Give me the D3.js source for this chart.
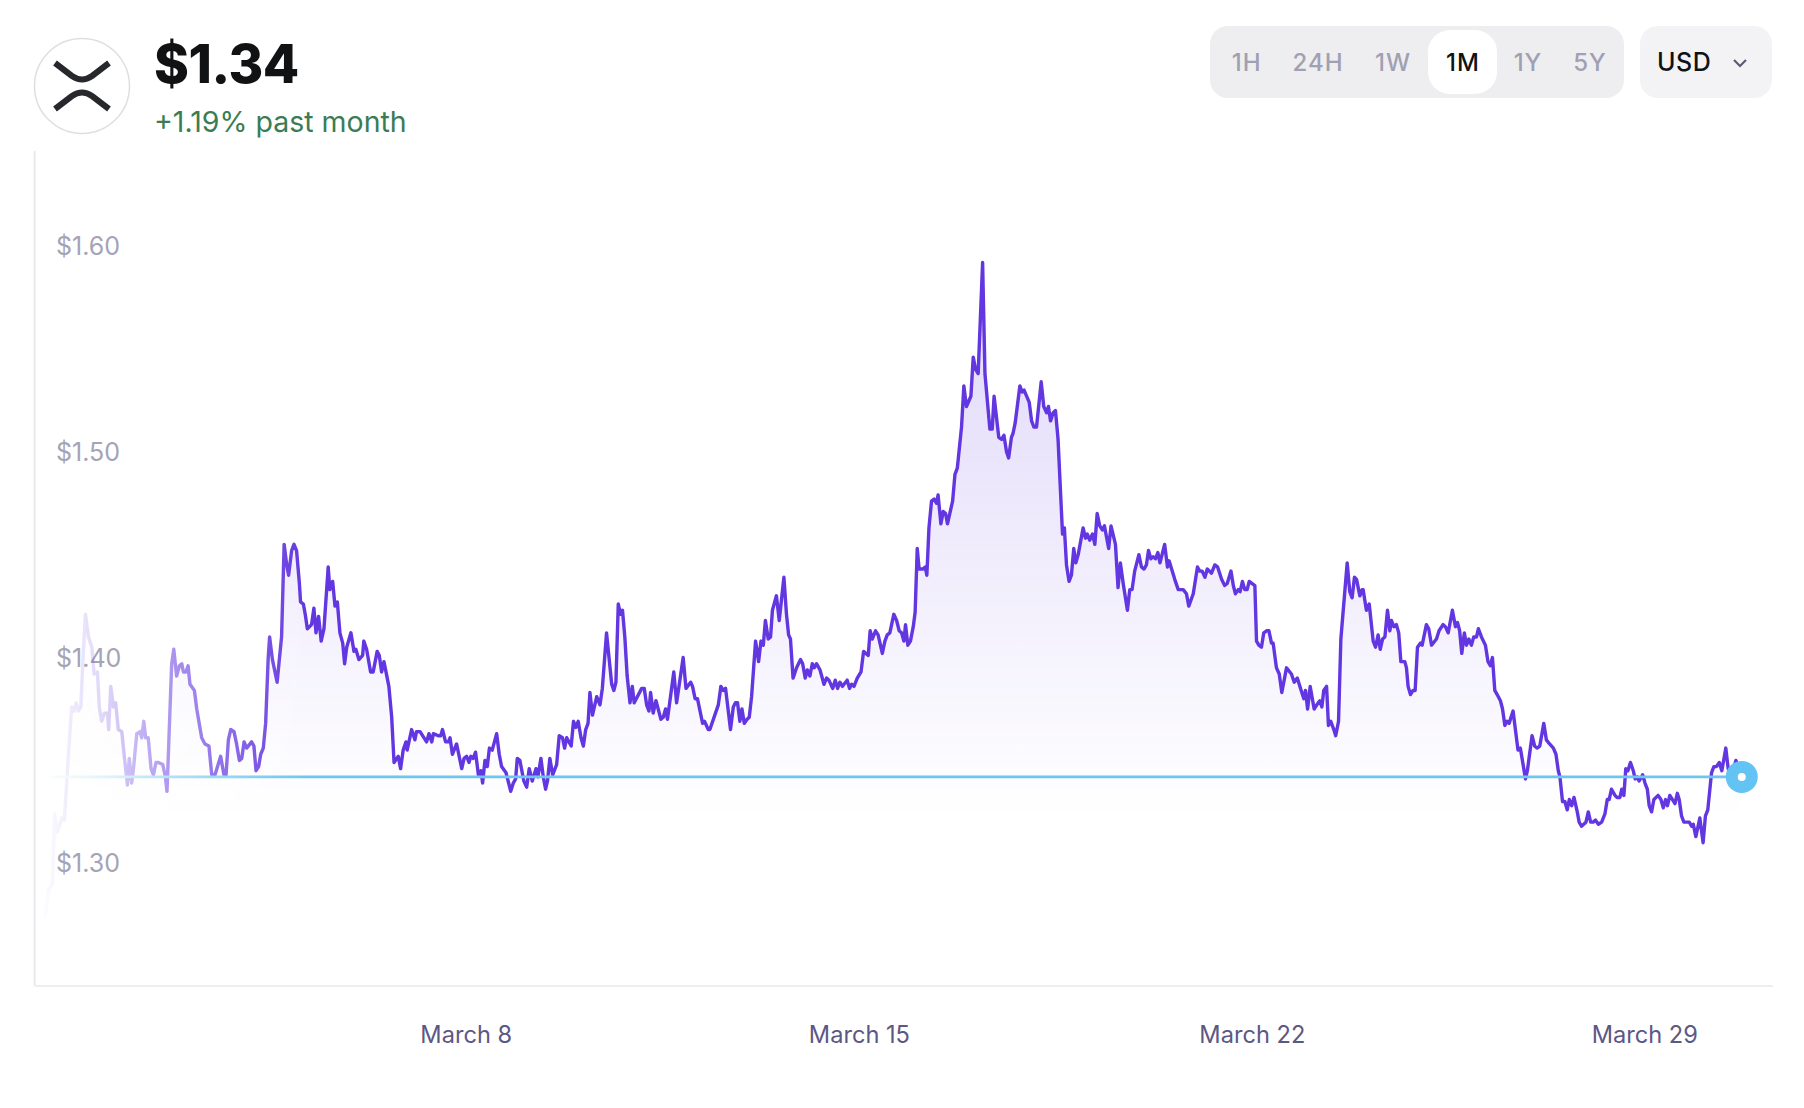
<!DOCTYPE html>
<html>
<head>
  <meta charset="utf-8">
  <script src="https://cdn.jsdelivr.net/npm/d3@7"></script>
  <style>
    html, body { margin:0; padding:0; background:#fff; }
    svg { display:block; font-family:Inter, sans-serif; }
  </style>
</head>
<body>
  <div id="chart"></div>
  <script>

  var periods = ["1H", "24H", "1W", "1M", "1Y", "5Y"]
  var activePeriod = "1M"
  var currency = "USD"
  var priceLabel = "$1.34"
  var changeLabel = "+1.19% past month"
  var currentPrice = 1.342
  var priceTicks = [1.30, 1.40, 1.50, 1.60]
  var dateTicks = [Date.UTC(2025,2,7,23,30), Date.UTC(2025,2,14,23,18), Date.UTC(2025,2,21,23,0), Date.UTC(2025,2,28,22,30)]

  // [hours since March 1, price in USD]
  var priceHistory = [
    [-12.0,1.274],[-10.6,1.287],[-8.9,1.290],[-8.0,1.324],[-6.8,1.315],[-4.9,1.322],[-3.8,1.321],[-2.4,1.347],[-0.7,1.376],[0.3,1.374],
    [1.2,1.378],[2.2,1.374],[3.2,1.376],[4.3,1.403],[5.2,1.421],[6.5,1.410],[7.9,1.405],[8.9,1.392],[10.3,1.393],[11.1,1.376],
    [12.1,1.369],[13.3,1.373],[14.6,1.373],[15.1,1.365],[16.0,1.386],[17.1,1.376],[18.1,1.378],[19.2,1.365],[20.7,1.364],[21.4,1.356],
    [23.1,1.338],[23.9,1.351],[24.9,1.339],[25.6,1.345],[27.1,1.363],[28.5,1.364],[29.2,1.361],[30.1,1.369],[30.9,1.361],[32.0,1.361],
    [33.2,1.346],[34.2,1.343],[35.3,1.349],[36.3,1.349],[38.2,1.348],[39.3,1.342],[40.0,1.335],[41.0,1.366],[42.0,1.397],[42.9,1.404],
    [44.1,1.391],[45.3,1.396],[46.3,1.397],[47.0,1.393],[48.1,1.393],[49.0,1.396],[49.8,1.387],[51.7,1.384],[52.7,1.375],[54.8,1.361],
    [56.2,1.358],[57.9,1.357],[59.1,1.343],[60.5,1.343],[62.9,1.352],[64.3,1.343],[65.2,1.343],[66.2,1.360],[67.2,1.365],[68.6,1.364],
    [69.7,1.358],[70.9,1.350],[71.9,1.351],[72.9,1.359],[74.0,1.356],[76.1,1.359],[77.1,1.357],[78.0,1.345],[79.1,1.347],[80.0,1.353],
    [81.1,1.356],[82.1,1.368],[83.2,1.400],[83.8,1.410],[85.0,1.399],[87.0,1.388],[88.9,1.410],[90.0,1.455],[91.1,1.445],[91.9,1.440],
    [93.2,1.452],[94.2,1.455],[95.3,1.452],[96.5,1.436],[97.0,1.427],[98.2,1.426],[99.0,1.421],[99.9,1.414],[101.7,1.416],[102.7,1.424],
    [103.6,1.412],[104.7,1.420],[105.8,1.408],[107.0,1.414],[108.8,1.444],[109.5,1.433],[110.7,1.437],[111.7,1.425],[112.7,1.427],[113.8,1.412],
    [115.0,1.407],[115.8,1.397],[116.7,1.405],[118.5,1.412],[119.8,1.403],[120.6,1.404],[121.9,1.399],[123.5,1.401],[124.0,1.408],[125.2,1.404],
    [126.9,1.393],[128.0,1.393],[129.7,1.403],[130.6,1.401],[131.6,1.393],[132.6,1.398],[134.7,1.386],[135.9,1.371],[136.9,1.349],[138.7,1.352],
    [139.7,1.346],[140.8,1.355],[142.0,1.359],[142.5,1.355],[144.4,1.365],[145.8,1.360],[146.5,1.364],[148.0,1.364],[150.8,1.359],[151.8,1.363],
    [153.0,1.359],[153.7,1.363],[155.8,1.362],[156.8,1.362],[157.6,1.365],[158.9,1.359],[160.1,1.359],[160.8,1.361],[161.8,1.353],[163.6,1.358],
    [165.8,1.346],[166.8,1.351],[167.9,1.352],[168.9,1.349],[169.7,1.352],[170.7,1.351],[171.7,1.354],[172.9,1.343],[174.0,1.345],[174.7,1.339],
    [175.7,1.350],[176.7,1.347],[177.6,1.356],[178.8,1.355],[180.7,1.363],[181.8,1.353],[182.8,1.347],[184.7,1.344],[186.7,1.335],[187.8,1.339],
    [188.8,1.341],[189.5,1.351],[190.6,1.350],[192.3,1.340],[193.5,1.337],[194.6,1.346],[195.9,1.340],[197.5,1.346],[198.3,1.342],[199.6,1.351],
    [200.6,1.342],[201.6,1.336],[202.4,1.340],[203.4,1.351],[204.6,1.343],[206.3,1.348],[207.4,1.362],[208.8,1.361],[209.7,1.356],[210.6,1.361],
    [212.5,1.357],[213.5,1.369],[214.5,1.366],[215.5,1.369],[216.7,1.361],[217.7,1.357],[218.7,1.365],[219.7,1.368],[220.5,1.383],[221.6,1.372],
    [223.4,1.381],[224.8,1.377],[225.8,1.385],[227.6,1.412],[229.8,1.387],[230.7,1.384],[231.6,1.388],[232.6,1.426],[233.6,1.421],[234.4,1.423],
    [235.4,1.410],[236.4,1.391],[237.6,1.378],[238.6,1.386],[239.4,1.378],[242.6,1.385],[243.7,1.385],[244.7,1.377],[245.7,1.374],[246.4,1.383],
    [247.5,1.373],[248.7,1.379],[250.8,1.370],[251.8,1.371],[252.8,1.375],[253.6,1.370],[256.3,1.393],[257.5,1.378],[260.3,1.400],[261.5,1.385],
    [263.5,1.388],[264.3,1.386],[265.4,1.380],[266.4,1.380],[268.6,1.368],[269.4,1.369],[271.0,1.365],[271.7,1.365],[273.8,1.372],[275.3,1.377],
    [276.4,1.386],[277.4,1.384],[278.4,1.385],[280.5,1.365],[281.7,1.376],[282.6,1.378],[283.5,1.378],[284.5,1.369],[285.4,1.375],[286.4,1.368],
    [287.6,1.370],[288.5,1.371],[289.5,1.381],[291.2,1.408],[292.5,1.398],[293.5,1.408],[294.5,1.406],[295.4,1.418],[296.6,1.409],[297.6,1.410],
    [298.4,1.423],[300.1,1.430],[301.3,1.418],[303.3,1.439],[304.4,1.421],[305.3,1.411],[306.1,1.409],[307.2,1.390],[308.7,1.395],[310.4,1.399],
    [311.3,1.397],[312.4,1.390],[313.3,1.394],[314.4,1.391],[315.4,1.397],[316.2,1.395],[317.2,1.397],[318.7,1.394],[320.4,1.387],[321.5,1.390],
    [322.5,1.389],[324.1,1.385],[325.2,1.389],[326.2,1.385],[327.2,1.388],[328.3,1.386],[330.3,1.389],[331.3,1.385],[332.2,1.387],[333.2,1.386],
    [334.6,1.390],[336.2,1.393],[337.3,1.403],[338.3,1.402],[339.3,1.401],[340.1,1.413],[341.0,1.409],[342.4,1.413],[343.5,1.411],[345.3,1.402],
    [346.4,1.408],[347.4,1.411],[348.5,1.412],[350.2,1.421],[351.4,1.418],[352.5,1.413],[353.5,1.412],[354.5,1.408],[355.2,1.416],[356.2,1.406],
    [357.3,1.408],[358.5,1.415],[359.3,1.422],[360.2,1.453],[361.0,1.443],[362.7,1.443],[363.6,1.444],[364.3,1.440],[365.2,1.463],[366.3,1.476],
    [367.4,1.477],[368.4,1.475],[369.1,1.479],[370.3,1.465],[371.3,1.471],[372.3,1.470],[373.1,1.465],[375.3,1.476],[376.3,1.489],[377.3,1.492],
    [379.1,1.512],[380.1,1.532],[381.2,1.522],[383.1,1.527],[384.1,1.546],[385.1,1.540],[386.2,1.538],[388.1,1.592],[389.1,1.538],[391.2,1.511],
    [392.2,1.511],[393.0,1.527],[395.0,1.507],[396.2,1.506],[397.2,1.508],[398.3,1.500],[399.2,1.497],[400.4,1.507],[401.1,1.509],[402.0,1.514],
    [404.0,1.532],[405.0,1.529],[405.8,1.530],[408.0,1.524],[409.0,1.515],[410.0,1.512],[411.1,1.512],[413.1,1.534],[414.2,1.522],[415.4,1.519],
    [416.2,1.522],[417.1,1.515],[418.2,1.519],[419.2,1.520],[420.3,1.506],[422.2,1.460],[423.0,1.463],[423.9,1.445],[425.0,1.437],[426.0,1.440],
    [427.0,1.453],[427.9,1.446],[428.9,1.450],[431.0,1.463],[432.0,1.458],[432.8,1.460],[433.8,1.457],[435.0,1.460],[436.0,1.455],[437.0,1.470],
    [438.1,1.464],[439.2,1.462],[440.1,1.464],[441.9,1.453],[442.9,1.464],[444.8,1.455],[445.9,1.434],[446.9,1.446],[448.1,1.436],[449.9,1.423],
    [450.9,1.433],[451.9,1.433],[453.0,1.442],[454.8,1.450],[455.9,1.444],[457.0,1.443],[458.0,1.445],[458.9,1.452],[459.9,1.448],[460.9,1.449],
    [461.9,1.448],[462.9,1.451],[463.8,1.446],[465.8,1.455],[467.0,1.444],[467.7,1.447],[470.1,1.438],[471.6,1.433],[473.7,1.433],[475.1,1.431],
    [476.1,1.425],[478.0,1.431],[479.8,1.444],[480.8,1.442],[481.8,1.442],[483.0,1.439],[484.0,1.443],[485.8,1.441],[487.2,1.445],[488.4,1.444],
    [490.1,1.438],[491.4,1.435],[492.5,1.436],[494.1,1.442],[495.1,1.435],[496.0,1.431],[497.2,1.433],[498.0,1.432],[499.0,1.437],[500.0,1.433],
    [501.0,1.433],[501.9,1.437],[504.3,1.435],[505.0,1.408],[506.0,1.406],[507.1,1.405],[508.1,1.412],[509.3,1.413],[510.3,1.413],[511.4,1.407],
    [512.1,1.407],[513.5,1.395],[514.7,1.392],[515.8,1.383],[517.8,1.395],[519.9,1.392],[521.1,1.388],[522.4,1.390],[524.6,1.382],[525.2,1.380],
    [525.9,1.384],[526.8,1.375],[527.9,1.386],[529.6,1.375],[531.3,1.378],[532.0,1.379],[532.9,1.376],[533.7,1.384],[534.9,1.386],[535.7,1.367],
    [536.7,1.369],[538.0,1.365],[538.8,1.362],[540.0,1.369],[541.0,1.409],[543.7,1.446],[544.8,1.432],[545.8,1.429],[546.8,1.439],[547.7,1.438],
    [549.1,1.430],[550.1,1.433],[550.5,1.433],[551.9,1.423],[553.1,1.426],[554.8,1.408],[555.8,1.405],[556.9,1.411],[557.8,1.404],[558.8,1.409],
    [559.8,1.410],[560.9,1.423],[561.9,1.413],[562.6,1.418],[563.6,1.415],[564.7,1.416],[565.7,1.412],[566.6,1.398],[568.3,1.398],[569.0,1.395],
    [569.7,1.386],[570.7,1.382],[571.8,1.384],[572.7,1.384],[573.7,1.405],[575.0,1.407],[575.7,1.406],[577.5,1.416],[578.5,1.414],[579.7,1.406],
    [581.8,1.409],[582.9,1.413],[584.6,1.416],[585.6,1.415],[586.8,1.412],[588.6,1.423],[589.9,1.415],[590.8,1.417],[591.7,1.413],[592.6,1.402],
    [593.7,1.412],[594.6,1.406],[595.6,1.409],[596.7,1.406],[597.7,1.410],[598.9,1.410],[599.7,1.414],[601.0,1.410],[602.7,1.406],[603.8,1.398],
    [604.8,1.396],[605.7,1.400],[606.7,1.384],[607.7,1.382],[609.1,1.379],[610.0,1.375],[611.0,1.367],[611.9,1.369],[612.8,1.368],[614.5,1.374],
    [616.6,1.355],[617.6,1.356],[619.8,1.341],[620.6,1.345],[622.6,1.362],[623.7,1.357],[624.7,1.356],[625.9,1.357],[627.6,1.368],[628.7,1.360],
    [630.1,1.358],[631.7,1.356],[632.8,1.353],[633.8,1.345],[634.5,1.342],[635.6,1.330],[636.6,1.330],[637.6,1.326],[638.5,1.331],[639.5,1.328],
    [640.5,1.332],[641.9,1.325],[642.7,1.320],[643.7,1.318],[645.6,1.320],[646.6,1.325],[647.6,1.320],[648.7,1.320],[649.7,1.321],[650.9,1.319],
    [652.3,1.320],[653.7,1.324],[654.7,1.331],[655.5,1.331],[656.5,1.336],[658.0,1.333],[658.9,1.332],[660.1,1.332],[660.9,1.336],[661.8,1.333],
    [662.6,1.346],[663.5,1.345],[664.6,1.349],[665.8,1.345],[666.6,1.341],[667.5,1.342],[668.3,1.340],[669.8,1.343],[670.8,1.339],[671.8,1.336],
    [672.6,1.328],[673.6,1.325],[674.6,1.331],[676.4,1.333],[677.6,1.331],[678.6,1.327],[679.6,1.331],[680.4,1.328],[681.4,1.333],[683.6,1.329],
    [684.6,1.334],[685.4,1.331],[686.4,1.323],[687.4,1.320],[689.7,1.320],[690.7,1.318],[691.4,1.319],[692.5,1.313],[694.2,1.322],[695.6,1.310],
    [696.6,1.323],[697.6,1.326],[699.2,1.344],[700.2,1.347],[701.3,1.347],[702.5,1.349],[703.6,1.345],[705.3,1.356],[706.3,1.346],[707.7,1.342],
    [709.6,1.350],[712.1,1.342]
  ]

  var hourMs = 3600000
  var marchFirst = Date.UTC(2025,2,1)
  function toDate(h) { return new Date(marchFirst + h*hourMs) }

  var width = 1804, height = 1108
  var chartLeft = 34.6, chartRight = 1773, chartTop = 151, chartBottom = 986

  var svg = d3.select("#chart").append("svg").attr("width", width).attr("height", height)
  var defs = svg.append("defs")

  var x = d3.scaleUtc()
    .domain([toDate(168), toDate(672)])
    .range([466.9, 1647.8])
  var y = d3.scaleLinear().domain([1.30, 1.60]).range([863.3, 246])

  // Axes
  svg.append("line").attr("x1", chartLeft).attr("x2", chartLeft).attr("y1", chartTop).attr("y2", chartBottom)
     .style("stroke", "#e9e9ed").style("stroke-width", 2)
  svg.append("line").attr("x1", chartLeft).attr("x2", chartRight).attr("y1", chartBottom).attr("y2", chartBottom)
     .style("stroke", "#eeeef0").style("stroke-width", 2)

  var yAxis = svg.append("g").attr("transform", "translate(56,0.6)")
    .call(d3.axisRight(y).tickValues(priceTicks).tickSize(0).tickPadding(0).tickFormat(d3.format("$.2f")))
  yAxis.select(".domain").remove()
  yAxis.selectAll("text").style("font-family", "Inter").style("font-size", "25px").style("fill", "#a5a3b6")

  var xAxis = svg.append("g").attr("transform", "translate(0," + chartBottom + ")")
    .call(d3.axisBottom(x).tickValues(dateTicks.map(function(d) { return new Date(d) })).tickSize(0).tickPadding(40)
      .tickFormat(function(d) { return d3.utcFormat("March %-d")(d3.utcDay.round(d)) }))
  xAxis.select(".domain").remove()
  xAxis.selectAll("text").style("font-family", "Inter").style("font-size", "23.6px").style("fill", "#5d5785")

  // Left edge fade and fill gradient
  var fade = defs.append("linearGradient").attr("id", "fade").attr("gradientUnits", "userSpaceOnUse")
    .attr("x1", x(toDate(-12))).attr("x2", x(toDate(100))).attr("y1", 0).attr("y2", 0)
  fade.append("stop").attr("offset", 0).attr("stop-color", "#fff").attr("stop-opacity", 0.02)
  fade.append("stop").attr("offset", 0.22).attr("stop-color", "#fff").attr("stop-opacity", 0.2)
  fade.append("stop").attr("offset", 0.5).attr("stop-color", "#fff").attr("stop-opacity", 0.55)
  fade.append("stop").attr("offset", 1).attr("stop-color", "#fff").attr("stop-opacity", 1)
  defs.append("mask").attr("id", "fadeMask").attr("maskUnits", "userSpaceOnUse")
    .attr("x", 0).attr("y", 0).attr("width", width).attr("height", height)
    .append("rect").attr("width", width).attr("height", height).attr("fill", "url(#fade)")

  var fill = defs.append("linearGradient").attr("id", "fill").attr("gradientUnits", "userSpaceOnUse")
    .attr("x1", 0).attr("x2", 0).attr("y1", 260).attr("y2", 815)
  fill.append("stop").attr("offset", 0).attr("stop-color", "#6236e0").attr("stop-opacity", 0.2)
  fill.append("stop").attr("offset", 1).attr("stop-color", "#6236e0").attr("stop-opacity", 0)

  var plot = svg.append("g").attr("mask", "url(#fadeMask)")

  var area = d3.area()
    .x(function(d) { return x(toDate(d[0])) })
    .y0(chartBottom - 2)
    .y1(function(d) { return y(d[1]) })
  var line = d3.line()
    .x(function(d) { return x(toDate(d[0])) })
    .y(function(d) { return y(d[1]) })

  plot.append("path").datum(priceHistory).attr("d", area).attr("fill", "url(#fill)")
  plot.append("path").datum(priceHistory).attr("d", line)
    .attr("fill", "none").attr("stroke", "#6236e0").attr("stroke-width", 3.4).attr("stroke-linejoin", "round")

  var last = priceHistory[priceHistory.length - 1]
  plot.append("path").datum([[priceHistory[0][0] + 2, currentPrice], [last[0], currentPrice]]).attr("d", line)
    .attr("fill", "none").attr("stroke", "#6cc6f0").attr("stroke-width", 2.6)

  svg.append("circle").attr("cx", x(toDate(last[0]))).attr("cy", y(currentPrice)).attr("r", 16).attr("fill", "#63c4f4")
  svg.append("circle").attr("cx", x(toDate(last[0]))).attr("cy", y(currentPrice)).attr("r", 4).attr("fill", "#fff")

  // Header: coin logo, price, change
  svg.append("circle").attr("cx", 82).attr("cy", 86).attr("r", 47.5)
    .attr("fill", "#fff").attr("stroke", "#dfdfe3").attr("stroke-width", 1.5)
  var logo = svg.append("g").attr("fill", "none").attr("stroke", "#26282c").attr("stroke-width", 6).attr("stroke-linejoin", "round")
  logo.append("path").attr("d", "M55,63 L72,76 Q82,83 92,76 L109,63")
  logo.append("path").attr("d", "M55,109 L72,96 Q82,89 92,96 L109,109")

  svg.append("text").attr("x", 154).attr("y", 83).text(priceLabel)
    .style("font-family", "Inter").style("font-weight", 800).style("font-size", "53px").style("letter-spacing", "-0.5px").style("fill", "#111214")
  svg.append("text").attr("x", 154).attr("y", 132).text(changeLabel)
    .style("font-family", "Inter").style("font-size", "28.5px").style("fill", "#3a7d54")

  // Period selector
  var periodX = [1246.6, 1318, 1393, 1463, 1528, 1590]
  svg.append("rect").attr("x", 1210).attr("y", 26).attr("width", 414).attr("height", 72).attr("rx", 18).attr("fill", "#eeeef0")
  svg.append("rect").attr("x", 1428).attr("y", 30).attr("width", 69).attr("height", 64).attr("rx", 22).attr("fill", "#fff")
  svg.selectAll(".period").data(periods).enter().append("text").attr("class", "period")
    .attr("x", function(d, i) { return periodX[i] }).attr("y", 71).attr("text-anchor", "middle").text(function(d) { return d })
    .style("font-family", "Inter").style("font-weight", 500).style("font-size", "24px").style("letter-spacing", "1px")
    .style("fill", function(d) { return d == activePeriod ? "#111214" : "#a0a0b2" })

  svg.append("rect").attr("x", 1640).attr("y", 26).attr("width", 132).attr("height", 72).attr("rx", 18).attr("fill", "#f3f3f5")
  svg.append("text").attr("x", 1657).attr("y", 71).text(currency)
    .style("font-family", "Inter").style("font-weight", 500).style("font-size", "25px").style("letter-spacing", "0.5px").style("fill", "#111214")
  svg.append("path").attr("d", "M1734,60 L1740,66 L1746,60").attr("fill", "none").attr("stroke", "#5d5a75").attr("stroke-width", 2.2)

  </script>
</body>
</html>
